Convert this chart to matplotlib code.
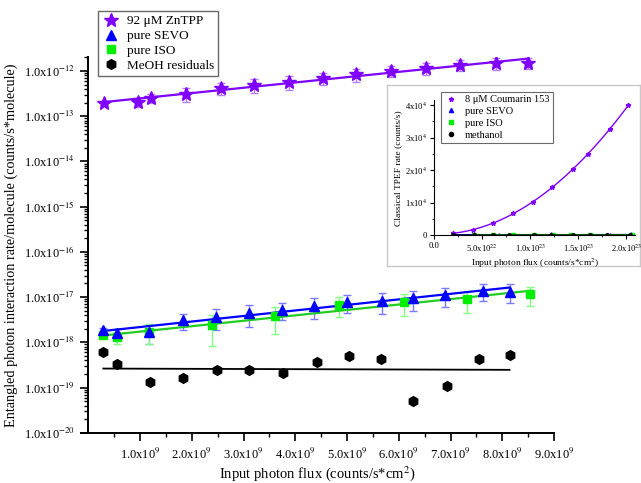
import numpy as np
import matplotlib.pyplot as plt
from matplotlib.lines import Line2D
from matplotlib.ticker import (FixedLocator, FuncFormatter, MultipleLocator,
                               NullFormatter)

plt.rcParams['font.family'] = ['Liberation Serif', 'DejaVu Serif']
plt.rcParams['mathtext.fontset'] = 'stix'

# entangled photon interaction rate per molecule vs input flux
zntpp_flux = np.array([0.31, 0.955, 1.21, 1.89, 2.57, 3.21, 3.88, 4.53, 5.17, 5.85, 6.53, 7.19, 7.88, 8.49]) * 1e9
zntpp_rate = np.array([1.93, 2.06, 2.53, 3.15, 4.14, 4.9, 5.7, 6.9, 8.45, 10.0, 11.5, 13.6, 14.8, 15.3]) * 1e-13
zntpp_err = np.array([0.19, 0.47, 0.61, 1.04, 1.20, 1.62, 1.94, 2.0, 2.7, 2.8, 3.2, 3.8, 4.3, 4.4]) * 1e-13

sevo_flux = np.array([0.29, 0.55, 1.17, 1.84, 2.46, 3.11, 3.75, 4.37, 5.0, 5.67, 6.27, 6.90, 7.62, 8.14]) * 1e9
sevo_rate = np.array([1.87, 1.58, 1.69, 3.1, 3.6, 4.4, 5.2, 6.35, 7.9, 8.3, 9.4, 11.1, 13.9, 13.2]) * 1e-18
sevo_err = np.array([0.19, 0.43, 0.78, 1.21, 1.73, 2.24, 2.08, 3.05, 3.48, 3.98, 4.42, 5.0, 5.56, 5.81]) * 1e-18

iso_flux = np.array([0.29, 0.55, 1.17, 2.39, 3.61, 4.85, 6.11, 7.32, 8.53]) * 1e9
iso_rate = np.array([1.45, 1.33, 1.72, 2.41, 3.82, 6.7, 7.7, 9.1, 11.7]) * 1e-18
iso_err = np.array([0.15, 0.40, 0.81, 1.57, 2.33, 3.15, 3.85, 4.55, 5.27]) * 1e-18

meoh_flux = np.array([0.29, 0.56, 1.19, 1.83, 2.49, 3.11, 3.77, 4.42, 5.04, 5.66, 6.28, 6.94, 7.56, 8.14]) * 1e9
meoh_rate = np.array([6.1, 3.3, 1.3, 1.6, 2.4, 2.4, 2.1, 3.7, 5.0, 4.3, 0.5, 1.08, 4.3, 5.2]) * 1e-19

# classical TPEF (inset)
c153_flux = np.array([1.98, 4.0, 6.08, 8.23, 10.25, 12.23, 14.48, 16.04, 18.3, 20.2]) * 1e22
c153_rate = np.array([613, 1626, 3680, 6930, 10215, 14720, 20245, 25030, 32515, 40060])
sevo_c_flux = np.array([2.0, 4.2, 6.7, 8.3, 10.5, 12.2, 14.5, 16.3, 18.3, 20.5]) * 1e22
sevo_c_rate = np.array([180, 220, 200, 240, 210, 260, 230, 250, 240, 270])
iso_c_flux = np.array([4.1, 6.1, 8.2, 10.4, 12.4, 14.2, 16.2, 20.6]) * 1e22
iso_c_rate = np.array([150, 170, 160, 190, 180, 200, 190, 210])
meoh_c_flux = np.array([2.0, 4.1, 6.1, 7.8, 10.4, 12.2, 14.4, 16.2, 18.0, 20.4]) * 1e22
meoh_c_rate = np.array([90, 110, 100, 120, 100, 110, 120, 100, 110, 120])

purple = '#7f00ff'
blue = '#0000ff'
green = '#00ee00'


def logfit(x, y):
    k, b = np.polyfit(x, np.log10(y), 1)
    xx = np.linspace(x.min(), x.max(), 50)
    return xx, 10 ** (k * xx + b)


def sci(v, digits):
    if v == 0:
        return '0.0' if digits else '0'
    e = int(np.floor(np.log10(abs(v)) + 1e-9))
    m = v / 10 ** e
    mant = f'{m:.{digits}f}'
    return mant + 'x10$^{' + str(e) + '}$'


fig = plt.figure(figsize=(6.41, 4.83), dpi=100)
ax = fig.add_axes([0.1256, 0.104, 0.7387, 0.778])

for flux, rate, err, col, ecol in [
        (zntpp_flux, zntpp_rate, zntpp_err, purple, '#b27fff'),
        (sevo_flux, sevo_rate, sevo_err, blue, '#7a7aff'),
        (iso_flux, iso_rate, iso_err, green, '#80ff80')]:
    ax.errorbar(flux, rate, yerr=err, fmt='none', ecolor=ecol, elinewidth=1,
                capsize=3, capthick=1, zorder=2)
    xx, yy = logfit(flux, rate)
    ax.plot(xx, yy, color=col if col != green else '#22cc22', lw=1.6, zorder=3)

xx, yy = logfit(meoh_flux, meoh_rate)
ax.plot(xx, yy, color='black', lw=1.3, zorder=3)

ax.plot(zntpp_flux, zntpp_rate, ls='none', marker='*', ms=10, color=purple, zorder=4)
ax.plot(sevo_flux, sevo_rate, ls='none', marker='^', ms=7.5, color=blue, zorder=5)
ax.plot(iso_flux, iso_rate, ls='none', marker='s', ms=6, color=green, zorder=4)
ax.plot(meoh_flux, meoh_rate, ls='none', marker='h', ms=7, color='black', zorder=4)

ax.set_yscale('log')
ax.set_xlim(-0.15e9, 9e9)
ax.set_ylim(1e-20, 2.04e-12)
ax.spines['top'].set_visible(False)
ax.spines['right'].set_visible(False)
ax.spines['left'].set_position(('data', 0))
for s in ('left', 'bottom'):
    ax.spines[s].set_linewidth(1.4)

decades = np.arange(-20, -11)
ax.xaxis.set_major_locator(FixedLocator(np.arange(1, 10) * 1e9))
ax.xaxis.set_minor_locator(FixedLocator(np.arange(0.5, 9, 1.0) * 1e9))
ax.xaxis.set_major_formatter(FuncFormatter(lambda v, p: sci(v, 1)))
ax.yaxis.set_major_locator(FixedLocator(10.0 ** decades))
minor = [m * 10.0 ** d for d in decades for m in range(2, 10) if m * 10.0 ** d < 2.04e-12]
ax.yaxis.set_minor_locator(FixedLocator(minor))
ax.yaxis.set_minor_formatter(NullFormatter())
ax.yaxis.set_major_formatter(FuncFormatter(lambda v, p: sci(v, 1)))
ax.tick_params(which='major', direction='out', length=5.5, width=1.2, labelsize=9)
ax.tick_params(which='minor', direction='out', length=3, width=1)
ax.tick_params(axis='x', which='major', pad=5)
ax.tick_params(axis='y', which='major', pad=4)

ax.set_xlabel('Input photon flux (counts/s*cm$^2$)', fontsize=10.5, labelpad=1)
ax.set_ylabel('Entangled photon interaction rate/molecule (counts/s*molecule)',
              fontsize=10.3, labelpad=4)

handles = [
    Line2D([], [], ls='none', marker='*', ms=10, color=purple),
    Line2D([], [], ls='none', marker='^', ms=7.5, color=blue),
    Line2D([], [], ls='none', marker='s', ms=6, color=green),
    Line2D([], [], ls='none', marker='h', ms=7, color='black'),
]
labels = ['92 \u03bcM ZnTPP', 'pure SEVO', 'pure ISO', 'MeOH residuals']
leg = fig.legend(handles, labels, loc='upper left', bbox_to_anchor=(0.153, 0.977),
                 fontsize=9.5, frameon=True, fancybox=False, edgecolor='#444444',
                 borderpad=0.3, labelspacing=0.2, handletextpad=0.5,
                 handlelength=1.4, borderaxespad=0)
leg.get_frame().set_linewidth(1.0)

# inset panel with classical two-photon excited fluorescence
frame = fig.add_axes([0.6037, 0.4493, 0.3947, 0.3747])
frame.set_xticks([])
frame.set_yticks([])
for s in frame.spines.values():
    s.set_color('#c8c8c8')
    s.set_linewidth(1.0)

ins = fig.add_axes([0.6775, 0.5128, 0.313, 0.280])
k2 = np.polyfit(c153_flux, c153_rate, 2)
xx = np.linspace(c153_flux.min(), c153_flux.max(), 100)
ins.plot(xx, np.polyval(k2, xx), color=purple, lw=1)
ins.plot(c153_flux, c153_rate, ls='none', marker='*', ms=3.5, color=purple)
for flux, rate, col, mk in [(sevo_c_flux, sevo_c_rate, blue, '^'),
                            (iso_c_flux, iso_c_rate, green, 's'),
                            (meoh_c_flux, meoh_c_rate, 'black', 'o')]:
    k1 = np.polyfit(flux, rate, 1)
    xl = np.linspace(flux.min(), flux.max(), 10)
    ins.plot(xl, np.polyval(k1, xl), color=col, lw=0.8)
    ins.plot(flux, rate, ls='none', marker=mk, ms=2.5, color=col)

ins.set_xlim(0, 2.09e23)
ins.set_ylim(0, 4.15e4)
ins.spines['top'].set_visible(False)
ins.spines['right'].set_visible(False)
ins.xaxis.set_major_locator(FixedLocator(np.arange(0, 2.01e23, 5e22)))
ins.xaxis.set_minor_locator(FixedLocator(np.arange(2.5e22, 2.09e23, 5e22)))
ins.xaxis.set_major_formatter(FuncFormatter(lambda v, p: sci(v, 1)))
ins.yaxis.set_major_locator(FixedLocator(np.arange(0, 4.01e4, 1e4)))
ins.yaxis.set_minor_locator(FixedLocator(np.arange(5e3, 4.15e4, 1e4)))
ins.yaxis.set_major_formatter(FuncFormatter(lambda v, p: sci(v, 0)))
ins.tick_params(which='major', direction='out', length=3, width=0.8, labelsize=6.2, pad=2)
ins.tick_params(which='minor', direction='out', length=1.5, width=0.6)
ins.set_xlabel('Input photon flux (counts/s*cm$^2$)', fontsize=6.8, labelpad=2)
ins.set_ylabel('Classical TPEF rate (counts/s)', fontsize=6.8, labelpad=2)

ihandles = [
    Line2D([], [], ls='none', marker='*', ms=3.5, color=purple),
    Line2D([], [], ls='none', marker='^', ms=3, color=blue),
    Line2D([], [], ls='none', marker='s', ms=3, color=green),
    Line2D([], [], ls='none', marker='o', ms=3, color='black'),
]
ilabels = ['8 \u03bcM Coumarin 153', 'pure SEVO', 'pure ISO', 'methanol']
ileg = fig.legend(ihandles, ilabels, loc='upper left', bbox_to_anchor=(0.688, 0.81),
                  fontsize=7.5, frameon=True, fancybox=False, edgecolor='#444444',
                  borderpad=0.3, labelspacing=0.25, handletextpad=0.6,
                  handlelength=1.4, borderaxespad=0)
ileg.get_frame().set_linewidth(0.8)

fig.savefig('out.png', dpi=100)
